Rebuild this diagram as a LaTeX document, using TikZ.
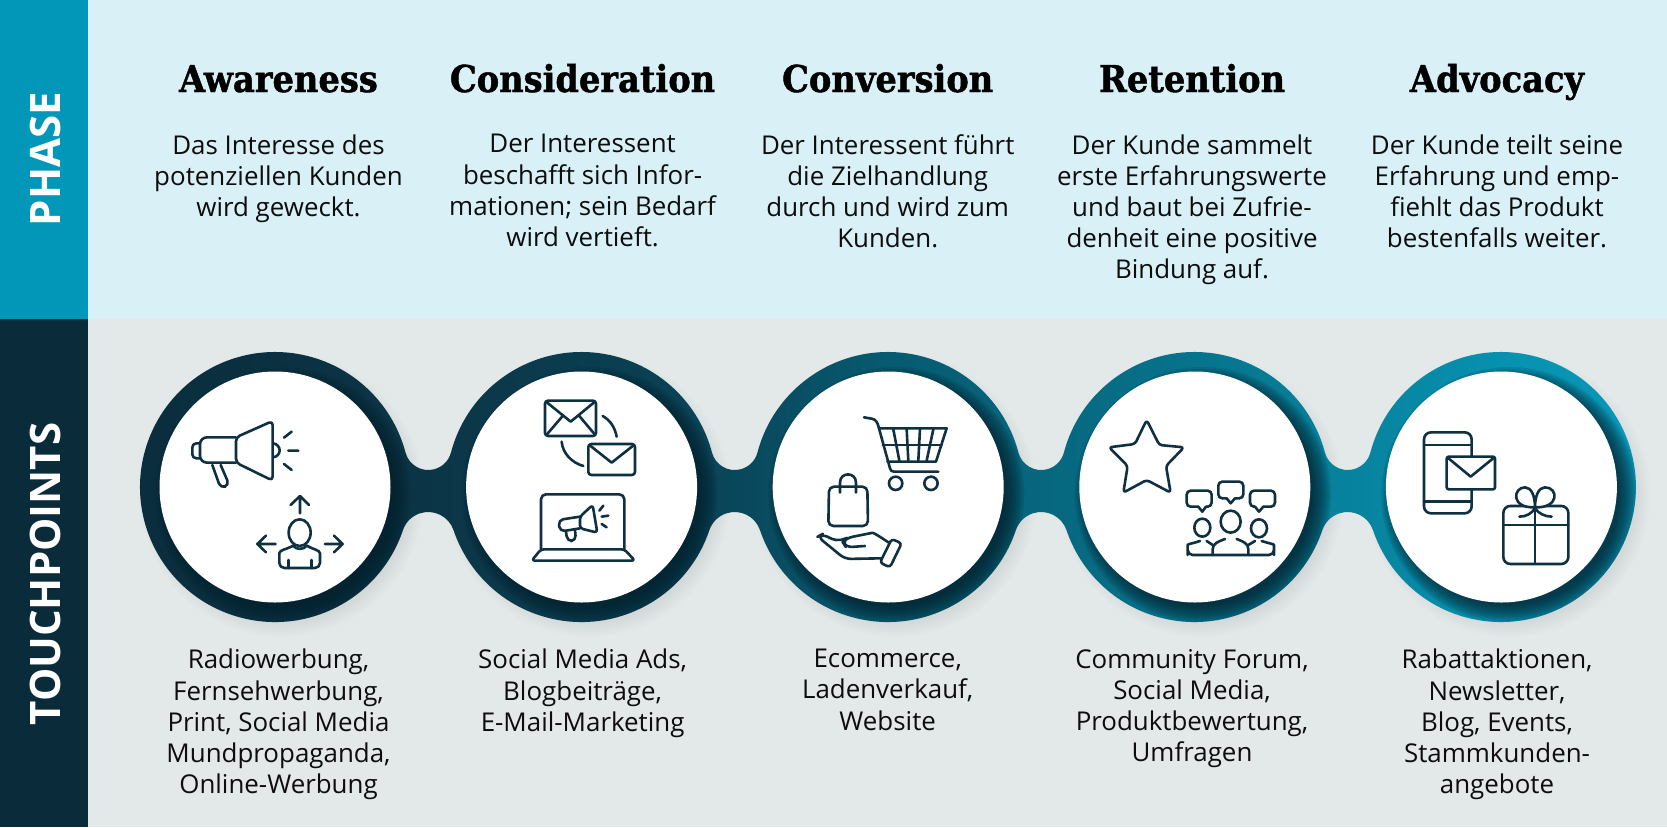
\documentclass[tikz,border=0pt]{standalone}
\usepackage{fontspec}
\setmainfont{Open Sans}
\newfontfamily\headfont[FakeStretch=0.91,BoldFeatures={FakeBold=1.2}]{DejaVu Serif}
\definecolor{phasebar}{HTML}{0297B8}
\definecolor{touchbar}{HTML}{0A2C3A}
\definecolor{phasebg}{HTML}{D8F0F6}
\definecolor{touchbg}{HTML}{E3E8E9}
\definecolor{icon}{HTML}{0F3040}
\definecolor{ink}{HTML}{0D0D0D}
\definecolor{shadowc}{HTML}{04202C}
\definecolor{ra}{HTML}{0A2D3C}
\definecolor{rb}{HTML}{0B3546}
\definecolor{rc}{HTML}{0A4256}
\definecolor{rd}{HTML}{075A70}
\definecolor{re}{HTML}{07738C}
\definecolor{rf}{HTML}{0792B0}
\definecolor{rg}{HTML}{0A98B8}
\pgfdeclarehorizontalshading{ringshade}{100bp}{
 color(0bp)=(ra); color(25bp)=(ra); color(34.7bp)=(rb); color(43.7bp)=(rc);
 color(50bp)=(rd); color(60bp)=(re); color(70.4bp)=(rf); color(75bp)=(rg); color(100bp)=(rg)}
\newcommand\bigarc[2]{arc[start angle=#1,end angle=#2,radius=135]}
\newcommand\ringpath{(402.9,530.2) \bigarc{18.66}{345.2}
 arc[start angle=165.2,end angle=14.8,radius=23.5] \bigarc{194.8}{345.2}
 arc[start angle=165.2,end angle=14.8,radius=23.5] \bigarc{194.8}{345.2}
 arc[start angle=165.2,end angle=14.8,radius=23.5] \bigarc{194.8}{345.2}
 arc[start angle=165.2,end angle=14.8,radius=23.5] \bigarc{194.8}{521.34}
 arc[start angle=-18.66,end angle=-161.34,radius=26.75] \bigarc{18.66}{161.34}
 arc[start angle=-18.66,end angle=-161.34,radius=26.75] \bigarc{18.66}{161.34}
 arc[start angle=-18.66,end angle=-161.34,radius=26.75] \bigarc{18.66}{161.34}
 arc[start angle=-18.66,end angle=-161.34,radius=26.75] -- cycle}
\tikzset{
 headtext/.style={inner sep=0pt,text=black,font=\headfont\bfseries\fontsize{37}{44}\selectfont,anchor=base},
 bodytext/.style={inner sep=0pt,text=ink,align=center,anchor=north,font=\fontsize{25.9}{31.2}\selectfont,execute at begin node=\strut},
 bartext/.style={inner sep=0pt,text=white,rotate=90,font=\bfseries\fontsize{42}{48}\selectfont},
 whitedisc/.style={circle,fill=white,inner sep=0pt,minimum size=231pt},
 ico/.style={draw=icon,line width=2.6pt,line cap=round,line join=round}
}
\begin{document}
\begin{tikzpicture}[x=1pt,y=-1pt]
\useasboundingbox (0,0) rectangle (1667,827);
\fill[phasebg] (88,0) rectangle (1667,319);
\fill[touchbg] (88,319) rectangle (1667,827);
\fill[phasebar] (0,0) rectangle (88,319);
\fill[touchbar] (0,319) rectangle (88,827);
\node[bartext] (phase) at (45,159) {PHASE};
\node[bartext] (touch) at (45,574) {TOUCHPOINTS};
% headings
\node[headtext] (h1) at (278.5,92) {Awareness};
\node[headtext] (h2) at (582.6,92) {Consideration};
\node[headtext] (h3) at (887.7,92) {Conversion};
\node[headtext] (h4) at (1192,92) {Retention};
\node[headtext] (h5) at (1497,92) {Advocacy};
% phase texts
\node[bodytext] (p1) at (278.5,134.2) {Das Interesse des\\potenziellen Kunden\\wird geweckt.};
\node[bodytext] (p2) at (582.6,134.2) {Der Interessent\\beschafft sich Infor-\\mationen; sein Bedarf\\wird vertieft.};
\node[bodytext] (p3) at (887.7,134.2) {Der Interessent führt\\die Zielhandlung\\durch und wird zum\\Kunden.};
\node[bodytext] (p4) at (1192,134.2) {Der Kunde sammelt\\erste Erfahrungswerte\\und baut bei Zufrie-\\denheit eine positive\\Bindung auf.};
\node[bodytext] (p5) at (1497,134.2) {Der Kunde teilt seine\\Erfahrung und emp-\\fiehlt das Produkt\\bestenfalls weiter.};
% touchpoint texts
\node[bodytext] (t1) at (278.5,649) {Radiowerbung,\\Fernsehwerbung,\\Print, Social Media\\Mundpropaganda,\\Online-Werbung};
\node[bodytext] (t2) at (582.6,649) {Social Media Ads,\\Blogbeiträge,\\E-Mail-Marketing};
\node[bodytext] (t3) at (887.7,649) {Ecommerce,\\Ladenverkauf,\\Website};
\node[bodytext] (t4) at (1192,649) {Community Forum,\\Social Media,\\Produktbewertung,\\Umfragen};
\node[bodytext] (t5) at (1497,649) {Rabattaktionen,\\Newsletter,\\Blog, Events,\\Stammkunden-\\angebote};
% outer soft shadow
\foreach \c in {275,581.6,888.2,1194.8,1501.4}{
 \foreach \k in {0,...,7}{
  \fill[black,opacity=.007] (\c+7,495) circle[radius=128+\k*2];
 }
}
% ring
\shade[shading=ringshade] \ringpath;
\begin{scope}
\clip \ringpath;
\foreach \c in {275,581.6,888.2,1194.8,1501.4}{
 \foreach \k in {0,...,9}{
  \fill[shadowc,opacity=.13] (\c+8,495) circle[radius=110+\k*2];
 }
}
\end{scope}
\node[whitedisc] (d1) at (275,487) {};
\node[whitedisc] (d2) at (581.6,487) {};
\node[whitedisc] (d3) at (888.2,487) {};
\node[whitedisc] (d4) at (1194.8,487) {};
\node[whitedisc] (d5) at (1501.4,487) {};
% icon 1
\begin{scope}[shift={(130,340)},x=.3333pt,y=-.3333pt]
\draw[ico,rounded corners=4pt] (318,292) -- (428,243) -- (428,422) -- (318,368) -- cycle;
\draw[ico,rounded corners=7pt] (318,292) -- (210,292) -- (210,368) -- (318,368);
\draw[ico,rounded corners=4pt] (210,310) -- (187,310) -- (187,355) -- (210,355);
\draw[ico,rounded corners=5pt] (247,375) -- (272,445) -- (298,435) -- (272,375);
\draw[ico] (430,310) .. controls (442,312) and (449,322) .. (449,331) .. controls (449,341) and (442,350) .. (430,352);
\draw[ico] (462,293) -- (485,275) (475,332) -- (505,332) (462,372) -- (485,390);
\draw[ico] (510,520) -- (510,470) (482,495) -- (510,468) -- (537,495);
\draw[ico] (437,612) -- (382,612) (408,587) -- (382,612) -- (408,637);
\draw[ico] (585,612) -- (638,612) (612,587) -- (638,612) -- (612,637);
\draw[ico] (509,578) ellipse[x radius=33,y radius=40];
\draw[ico,rounded corners=5pt] (490,617) .. controls (470,628) and (448,630) .. (448,655) -- (448,684) -- (570,684) -- (570,655) .. controls (570,630) and (548,628) .. (530,617);
\draw[ico] (490,617) .. controls (497,630) and (522,630) .. (530,617);
\draw[ico] (475,684) -- (475,660) (545,684) -- (545,660);
\end{scope}
% icon 2
\begin{scope}[shift={(440,340)},x=.3333pt,y=-.3333pt]
\draw[ico,rounded corners=3pt] (315,182) rectangle (468,288);
\draw[ico] (318,185) -- (392,245) -- (465,185) (320,284) -- (368,228) (465,284) -- (418,228);
\draw[ico,rounded corners=3pt] (445,312) rectangle (585,405);
\draw[ico] (448,315) -- (515,368) -- (582,315);
\draw[ico] (488,228) .. controls (510,240) and (525,262) .. (530,290);
\draw[ico] (365,305) .. controls (368,340) and (395,368) .. (430,378);
\draw[ico,rounded corners=5pt] (303,628) -- (303,463) -- (553,463) -- (553,628);
\draw[ico,rounded corners=3pt] (303,628) -- (553,628) -- (585,662) -- (275,662) -- cycle;
\draw[ico,rounded corners=3pt] (420,530) -- (458,495) -- (472,578) -- (420,565) -- cycle;
\draw[ico,rounded corners=5pt] (420,530) -- (355,540) -- (360,575) -- (420,565);
\draw[ico,rounded corners=5pt] (378,575) -- (382,604) -- (408,602) -- (405,570);
\draw[ico] (478,512) -- (490,497) (485,530) -- (505,527) (485,552) -- (500,562);
\end{scope}
% icon 3
\begin{scope}[shift={(750,340)},x=.3333pt,y=-.3333pt]
\draw[ico] (342,232) -- (365,236) .. controls (378,238) and (382,248) .. (385,258) -- (420,385) .. controls (422,392) and (425,395) .. (432,395) -- (565,395);
\draw[ico] (387,265) -- (590,265) -- (558,365) -- (412,365);
\draw[ico] (398,315) -- (575,315);
\draw[ico] (430,268) -- (448,362) (470,268) -- (475,362) (510,268) -- (505,362) (550,268) -- (530,362);
\draw[ico] (437,430) circle[radius=20] (543,430) circle[radius=20];
\draw[ico,rounded corners=5pt] (237,440) -- (352,440) -- (354,558) -- (235,558) -- cycle;
\draw[ico] (270,458) -- (270,428) .. controls (270,395) and (318,395) .. (318,428) -- (318,458);
\draw[ico,rounded corners=3pt] (425,597) -- (455,610) -- (420,682) -- (390,668) -- cycle;
\draw[ico,rounded corners=6pt] (415,607) .. controls (390,590) and (370,578) .. (350,582) -- (290,594) -- (278,606) -- (288,622) -- (345,618);
\draw[ico,rounded corners=6pt] (290,594) .. controls (265,605) and (250,600) .. (218,582) -- (203,590) -- (285,657) -- (395,655);
\end{scope}
% icon 4
\begin{scope}[shift={(1060,340)},x=.3333pt,y=-.3333pt]
\draw[ico,rounded corners=3pt] (260,240) -- (298,315) -- (372,322) -- (318,378) -- (332,458) -- (260,420) -- (190,458) -- (203,378) -- (147,322) -- (225,312) -- cycle;
\draw[ico,rounded corners=4pt] (415,500) -- (380,500) -- (380,452) -- (455,452) -- (455,500) -- (438,500);
\draw[ico] (415,500) -- (427,515) -- (438,500);
\draw[ico,rounded corners=4pt] (500,475) -- (475,475) -- (475,425) -- (550,425) -- (550,475) -- (525,475);
\draw[ico] (500,475) -- (512,490) -- (525,475);
\draw[ico,rounded corners=4pt] (585,500) -- (570,500) -- (570,452) -- (645,452) -- (645,500) -- (610,500);
\draw[ico] (585,500) -- (597,515) -- (610,500);
\draw[ico] (427,563) ellipse[x radius=24,y radius=27] (512,545) ellipse[x radius=30,y radius=33] (597,565) ellipse[x radius=24,y radius=27];
\draw[ico,rounded corners=5pt] (420,603) .. controls (400,610) and (383,612) .. (383,630) -- (383,645) -- (642,645) -- (642,630) .. controls (642,612) and (625,610) .. (605,603);
\draw[ico] (495,597) .. controls (475,605) and (458,610) .. (458,628) -- (458,645);
\draw[ico] (530,597) .. controls (550,605) and (565,610) .. (565,628) -- (565,645);
\draw[ico] (440,603) -- (458,615) (585,603) -- (565,615);
\end{scope}
% icon 5
\begin{scope}[shift={(1350,340)},x=.3333pt,y=-.3333pt]
\draw[ico,rounded corners=7pt] (222,277) rectangle (365,520);
\draw[ico] (222,315) -- (365,315) (222,485) -- (365,485);
\draw[ico,fill=white,rounded corners=2pt] (290,350) rectangle (435,448);
\draw[ico] (293,353) -- (362,410) -- (432,353);
\draw[ico,rounded corners=7pt] (460,498) rectangle (655,672);
\draw[ico] (460,555) -- (655,555) (555,505) -- (555,670);
\draw[ico,fill=white] (555,502) .. controls (480,505) and (490,442) .. (525,442) .. controls (545,442) and (555,470) .. (555,502) .. controls (555,470) and (565,442) .. (585,442) .. controls (625,442) and (630,505) .. (555,502);
\draw[ico] (508,530) .. controls (530,530) and (545,520) .. (555,505) .. controls (565,520) and (585,530) .. (605,530);
\end{scope}
\end{tikzpicture}
\end{document}
